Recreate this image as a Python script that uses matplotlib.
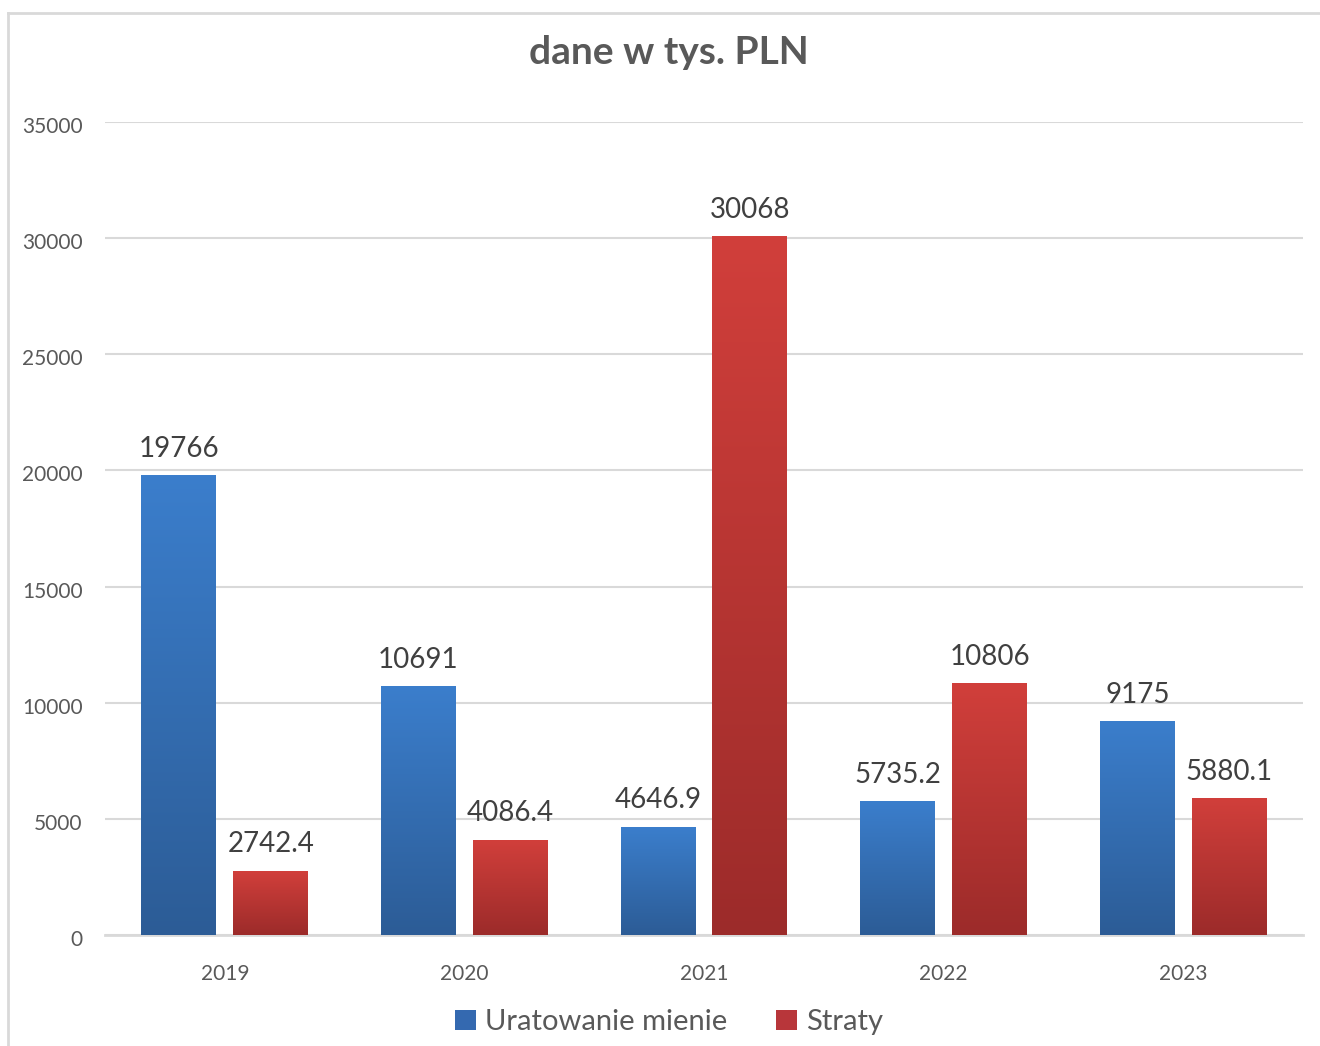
import numpy as np
import matplotlib
matplotlib.use("Agg")
import matplotlib.pyplot as plt
import matplotlib.transforms as mtransforms
from matplotlib.colors import LinearSegmentedColormap
from matplotlib.patches import Patch
from matplotlib.lines import Line2D

years = ["2019", "2020", "2021", "2022", "2023"]
uratowanie = [19766, 10691, 4646.9, 5735.2, 9175]
straty = [2742.4, 4086.4, 30068, 10806, 5880.1]
labels_u = ["19766", "10691", "4646.9", "5735.2", "9175"]
labels_s = ["2742.4", "4086.4", "30068", "10806", "5880.1"]

plt.rcParams['font.family'] = ['Lato', 'DejaVu Sans']
txt = "#595959"
grid_c = "#D9D9D9"

blue_cm = LinearSegmentedColormap.from_list("b", ["#2C5C96", "#3B7ECC"])
red_cm = LinearSegmentedColormap.from_list("r", ["#9C2B2A", "#D13F3B"])

fig = plt.figure(figsize=(13.2, 10.46), dpi=100)
ax = fig.add_axes([105/1320, 111/1046, (1303-105)/1320, (935-122)/1046])

x = np.arange(len(years))
w = 75/240
off = (75 + 17) / 2 / 240

def grad_bars(xs, vals, cmap, labels):
    bars = ax.bar(xs, vals, width=w, color="none", zorder=3)
    grad = np.linspace(0, 1, 256).reshape(-1, 1)
    for b, lab in zip(bars, labels):
        x0, y0 = b.get_x(), b.get_y()
        ax.imshow(grad, cmap=cmap, aspect="auto", origin="lower",
                  extent=[x0, x0 + b.get_width(), y0, y0 + b.get_height()], zorder=3)
        ax.annotate(lab, (x0 + b.get_width()/2, b.get_height()), xytext=(0, 10),
                    textcoords="offset points", ha="center", va="bottom",
                    fontsize=20, color="#404040")

grad_bars(x - off, uratowanie, blue_cm, labels_u)
grad_bars(x + off, straty, red_cm, labels_s)

ax.set_xlim(-0.5, 4.5)
ax.set_ylim(0, 35000)
ax.set_yticks(np.arange(0, 35001, 5000))
ax.set_xticks(x)
ax.set_xticklabels(years)
ax.grid(axis="y", color=grid_c, linewidth=1.5, zorder=0)
ax.set_axisbelow(True)
for s in ["top", "right", "left"]:
    ax.spines[s].set_visible(False)
ax.spines["bottom"].set_color(grid_c)
ax.spines["bottom"].set_linewidth(2)
ax.tick_params(axis="y", length=0, pad=16, labelsize=15, labelcolor=txt)
ax.tick_params(axis="x", length=0, pad=21, labelsize=15, labelcolor=txt)
shift = mtransforms.ScaledTranslation(0, -3/100, fig.dpi_scale_trans)
for lab in ax.get_yticklabels():
    lab.set_transform(lab.get_transform() + shift)

fig.text(669/1320, 1 - 52/1046, "dane w tys. PLN", ha="center", va="center",
         fontsize=28, fontweight="bold", color=txt)

handles = [Patch(facecolor="#3469B0", label="Uratowanie mienie"),
           Patch(facecolor="#B8363A", label="Straty")]
fig.legend(handles=handles, loc="center", bbox_to_anchor=(669/1320, 1 - 1022/1046),
           ncol=2, frameon=False, fontsize=21, labelcolor=txt,
           handlelength=0.7, handleheight=0.7, handletextpad=0.3, columnspacing=1.7)

# chart border
fig.add_artist(Line2D([8/1320, 8/1320], [0, 1 - 13/1046], transform=fig.transFigure,
                      color=grid_c, linewidth=2))
fig.add_artist(Line2D([8/1320, 1], [1 - 13/1046, 1 - 13/1046], transform=fig.transFigure,
                      color=grid_c, linewidth=2))

fig.savefig("out.png", dpi=100)
